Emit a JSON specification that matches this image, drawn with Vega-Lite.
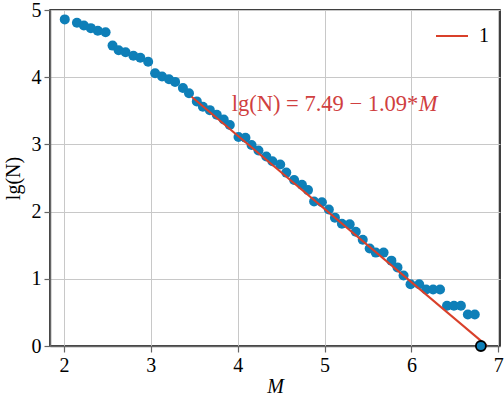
{
  "$schema": "https://vega.github.io/schema/vega-lite/v6.json",
  "width": 450,
  "height": 336,
  "autosize": "none",
  "padding": {"left": 50, "top": 10, "right": 4, "bottom": 52},
  "background": "white",
  "config": {
    "view": {"stroke": "black", "strokeWidth": 1.5},
    "font": "Liberation Serif",
    "axis": {
      "labelFont": "Liberation Serif",
      "labelFontSize": 20,
      "labelColor": "black",
      "titleFont": "Liberation Serif",
      "titleFontSize": 20,
      "titleFontWeight": "normal",
      "titleColor": "black",
      "domainColor": "#666666",
      "domainWidth": 1.5,
      "tickColor": "#666666",
      "tickSize": 6,
      "tickWidth": 1.2,
      "gridColor": "#c8c8c8",
      "gridWidth": 1,
      "labelPadding": 3
    },
    "text": {"font": "Liberation Serif"}
  },
  "datasets": {
    "pts": [
      {"M": 2.01, "lgN": 4.86}, {"M": 2.15, "lgN": 4.81}, {"M": 2.23, "lgN": 4.77},
      {"M": 2.31, "lgN": 4.73}, {"M": 2.39, "lgN": 4.69}, {"M": 2.48, "lgN": 4.67},
      {"M": 2.56, "lgN": 4.47}, {"M": 2.63, "lgN": 4.40}, {"M": 2.71, "lgN": 4.37},
      {"M": 2.80, "lgN": 4.32}, {"M": 2.88, "lgN": 4.29}, {"M": 2.97, "lgN": 4.23},
      {"M": 3.05, "lgN": 4.06}, {"M": 3.13, "lgN": 4.01}, {"M": 3.21, "lgN": 3.97},
      {"M": 3.28, "lgN": 3.93}, {"M": 3.37, "lgN": 3.84}, {"M": 3.44, "lgN": 3.76},
      {"M": 3.53, "lgN": 3.64}, {"M": 3.60, "lgN": 3.56}, {"M": 3.68, "lgN": 3.51},
      {"M": 3.76, "lgN": 3.44}, {"M": 3.84, "lgN": 3.37}, {"M": 3.91, "lgN": 3.29},
      {"M": 4.01, "lgN": 3.11}, {"M": 4.09, "lgN": 3.10}, {"M": 4.16, "lgN": 2.99},
      {"M": 4.24, "lgN": 2.91}, {"M": 4.33, "lgN": 2.82}, {"M": 4.40, "lgN": 2.75},
      {"M": 4.49, "lgN": 2.70}, {"M": 4.56, "lgN": 2.58}, {"M": 4.65, "lgN": 2.47},
      {"M": 4.74, "lgN": 2.40}, {"M": 4.81, "lgN": 2.32}, {"M": 4.88, "lgN": 2.15},
      {"M": 4.97, "lgN": 2.14}, {"M": 5.05, "lgN": 2.03}, {"M": 5.12, "lgN": 1.91},
      {"M": 5.20, "lgN": 1.82}, {"M": 5.29, "lgN": 1.81}, {"M": 5.36, "lgN": 1.70},
      {"M": 5.44, "lgN": 1.58}, {"M": 5.52, "lgN": 1.45}, {"M": 5.59, "lgN": 1.39},
      {"M": 5.68, "lgN": 1.39}, {"M": 5.77, "lgN": 1.27}, {"M": 5.84, "lgN": 1.17},
      {"M": 5.91, "lgN": 1.05}, {"M": 5.99, "lgN": 0.92}, {"M": 6.09, "lgN": 0.92},
      {"M": 6.17, "lgN": 0.84}, {"M": 6.25, "lgN": 0.84}, {"M": 6.33, "lgN": 0.84},
      {"M": 6.41, "lgN": 0.60}, {"M": 6.49, "lgN": 0.60}, {"M": 6.57, "lgN": 0.60},
      {"M": 6.65, "lgN": 0.47}, {"M": 6.73, "lgN": 0.47}
    ],
    "last": [{"M": 6.80, "lgN": 0.0}],
    "fit": [{"M": 3.47, "lgN": 3.7077, "s": "1"}, {"M": 6.87, "lgN": 0.0017, "s": "1"}],
    "ann": [{"M": 3.932, "lgN": 3.50, "t": "lg(N) = 7.49 − 1.09*", "tm": "M", "Mm": 6.085}]
  },
  "layer": [
    {
      "data": {"name": "pts"},
      "mark": {"type": "point", "filled": true, "size": 100, "color": "#0e7fb8", "opacity": 1},
      "encoding": {
        "x": {"field": "M", "type": "quantitative",
              "scale": {"domain": [1.84, 7.02], "nice": false, "zero": false},
              "axis": {"values": [2, 3, 4, 5, 6, 7], "format": "d", "labelFont": "Liberation Serif, Times New Roman, serif", "labelFontSize": 20,
                       "title": "M", "titleFont": "Liberation Serif", "titleFontStyle": "italic", "titleFontSize": 20, "titlePadding": 1, "grid": true}},
        "y": {"field": "lgN", "type": "quantitative",
              "scale": {"domain": [0, 5], "nice": false, "zero": false},
              "axis": {"values": [0, 1, 2, 3, 4, 5], "format": "d", "labelFont": "Liberation Serif, Times New Roman, serif", "labelFontSize": 20,
                       "title": "lg(N)", "titleFont": "Liberation Serif", "titleFontSize": 20, "titlePadding": 8, "grid": true}}
      }
    },
    {
      "data": {"name": "fit"},
      "mark": {"type": "line", "strokeWidth": 2},
      "encoding": {
        "x": {"field": "M", "type": "quantitative"},
        "y": {"field": "lgN", "type": "quantitative"},
        "color": {"field": "s", "type": "nominal",
                  "scale": {"range": ["#d9402a"]},
                  "legend": {"title": null, "orient": "none", "legendX": 385, "legendY": 9,
                             "symbolType": "stroke", "symbolSize": 1024, "symbolStrokeWidth": 2,
                             "labelFont": "Liberation Serif, Times New Roman, serif", "labelFontSize": 20, "labelColor": "black",
                             "labelOffset": 10, "padding": 0}}
      }
    },
    {
      "data": {"name": "last"},
      "mark": {"type": "point", "filled": true, "size": 100, "color": "#0e7fb8", "stroke": "black", "strokeWidth": 1.8, "opacity": 1},
      "encoding": {
        "x": {"field": "M", "type": "quantitative"},
        "y": {"field": "lgN", "type": "quantitative"}
      }
    },
    {
      "data": {"name": "ann"},
      "mark": {"type": "text", "align": "left", "baseline": "alphabetic", "font": "Liberation Serif", "fontSize": 22.5, "color": "#d04040"},
      "encoding": {
        "x": {"field": "M", "type": "quantitative"},
        "y": {"field": "lgN", "type": "quantitative"},
        "text": {"field": "t"}
      }
    },
    {
      "data": {"name": "ann"},
      "mark": {"type": "text", "align": "left", "baseline": "alphabetic", "font": "Liberation Serif", "fontSize": 22.5, "fontStyle": "italic", "color": "#d04040"},
      "encoding": {
        "x": {"field": "Mm", "type": "quantitative"},
        "y": {"field": "lgN", "type": "quantitative"},
        "text": {"field": "tm"}
      }
    }
  ]
}
